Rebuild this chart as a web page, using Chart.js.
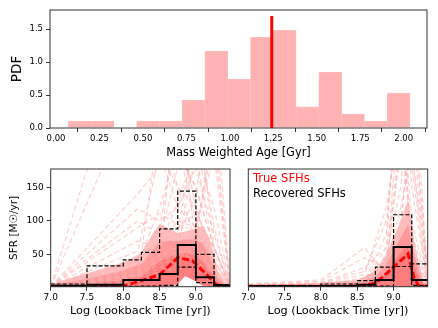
<!DOCTYPE html>
<html>
<head>
<meta charset="utf-8">
<script src="https://cdn.jsdelivr.net/npm/chart.js@4.4.1/dist/chart.umd.min.js"></script>
<style>
  html, body { margin: 0; padding: 0; background: #fff; }
  #wrap { position: relative; width: 438px; height: 328px; overflow: hidden; font-family: "DejaVu Sans", sans-serif; }
  #wrap canvas { position: absolute; left: 0; top: 0; }
  .leg { position: absolute; font-size: 11.5px; line-height: 14px; white-space: nowrap; }
</style>
</head>
<body>
<div id="wrap">
  <canvas id="topChart" width="438" height="328"></canvas>
  <canvas id="leftChart" width="438" height="328"></canvas>
  <canvas id="rightChart" width="438" height="328"></canvas>
  <div class="leg" style="left:253px; top:171px; color:#ff0000;">True SFHs</div>
  <div class="leg" style="left:253px; top:186px; color:#000;">Recovered SFHs</div>
</div>
<script>
// --- histograma de edades ---
const ageBinLeft = [0.071, 0.202, 0.333, 0.464, 0.595, 0.726, 0.857, 0.988, 1.119, 1.250, 1.381, 1.512, 1.643, 1.774, 1.905];
const ageBinWidth = 0.131;
const agePdf = [0.106, 0.106, 0, 0.106, 0.106, 0.42, 1.165, 0.74, 1.375, 1.48, 0.32, 0.85, 0.21, 0.106, 0.53];
const trueAge = 1.241;
const trueAgeTop = 1.70;
const ageTicks = [0, 0.25, 0.5, 0.75, 1.0, 1.25, 1.5, 1.75, 2.0];
const pdfTicks = [0, 0.5, 1.0, 1.5];

// --- SFHs ---
const logTicks = [7.0, 7.5, 8.0, 8.5, 9.0];
const sfrTicks = [50, 100, 150];
const recEdges = [7.0, 7.5, 8.0, 8.25, 8.5, 8.75, 9.0, 9.25, 9.47];

// panel izquierdo
const leftRecMed = [3.5, 5, 12, 12, 21, 64, 16, 4];
const leftRecUp  = [6, 33, 42, 53, 88, 144, 50, 5];
const leftRecLo  = [2.5, 2.5, 2.5, 3, 4, 31, 8, 2.5];
const leftMedX = [7.0, 7.5, 8.0, 8.25, 8.5, 8.75, 8.95, 9.15, 9.28, 9.35, 9.47];
const leftMedY = [2.5, 2.5, 3, 11, 20, 45, 41, 20, 5, 3, 3];
const leftBandX  = [7.0, 7.5, 8.0, 8.25, 8.4, 8.5, 8.6, 8.75, 8.85, 9.0, 9.1, 9.2, 9.3, 9.4, 9.47];
const leftBandUp = [6, 22, 38, 52, 80, 95, 90, 82, 84, 88, 93, 70, 25, 8, 4];
const leftBandMid = [4, 14, 26, 36, 55, 68, 70, 70, 72, 72, 65, 45, 16, 5, 3];
const leftBandIn = [2, 6, 12, 18, 30, 40, 45, 50, 52, 48, 38, 25, 9, 3, 2];
const leftBandLo = [0, 0, 0, 0, 0, 0, 2, 6, 18, 10, 3, 0, 0, 0, 0];
const leftKnots = [7.0, 8.2, 8.5, 8.75, 9.0, 9.25, 9.47];
const leftTrue = [
  [2, 300, 200, 150, 120, 40, 5],
  [2, 140, 180, 200, 150, 60, 5],
  [2, 118, 100, 120, 180, 80, 5],
  [2, 100, 80, 90, 110, 60, 4],
  [2, 90, 110, 95, 85, 40, 3],
  [2, 70, 60, 130, 200, 50, 3],
  [2, 55, 200, 120, 90, 30, 3],
  [2, 45, 90, 250, 120, 30, 2],
  [2, 40, 70, 80, 250, 90, 3],
  [2, 30, 60, 100, 90, 220, 5],
  [2, 25, 50, 60, 200, 120, 4],
  [2, 20, 45, 300, 60, 20, 2],
  [2, 15, 30, 50, 70, 250, 6],
  [2, 35, 120, 210, 100, 30, 3],
  [2, 10, 25, 45, 60, 40, 3],
  [2, 18, 35, 55, 40, 20, 2],
  [2, 12, 250, 150, 70, 20, 2],
  [2, 8, 20, 35, 90, 200, 4],
  [2, 28, 70, 180, 280, 60, 3],
  [2, 22, 40, 75, 140, 300, 8],
  [2, 420, 250, 200, 150, 60, 5]
];

// panel derecho
const rightRecMed = [2.5, 2.5, 3, 3, 5, 12, 61, 12];
const rightRecUp  = [3.5, 3.5, 6, 6, 11, 31, 109, 36];
const rightRecLo  = [2.2, 2.2, 2.2, 2.2, 2.5, 3, 32, 4];
const rightMedX = [7.0, 8.0, 8.5, 8.75, 9.0, 9.2, 9.28, 9.35, 9.47];
const rightMedY = [2.5, 2.5, 3, 7, 31, 51, 16, 2.5, 2.5];
const rightBandX  = [7.0, 7.5, 8.0, 8.5, 8.75, 8.9, 9.0, 9.1, 9.2, 9.3, 9.4, 9.47];
const rightBandUp = [5, 6, 8, 12, 25, 50, 75, 100, 132, 60, 15, 5];
const rightBandMid = [3, 4, 5, 8, 17, 35, 55, 75, 95, 42, 10, 3];
const rightBandIn = [2, 2, 3, 5, 10, 22, 38, 52, 65, 26, 6, 2];
const rightBandLo = [0, 0, 0, 0, 0, 0, 0, 0, 0, 0, 0, 0];
const rightKnots = [7.0, 8.0, 8.6, 8.9, 9.1, 9.25, 9.47];
const rightTrue = [
  [6, 12, 60, 20, 250, 60, 3],
  [5, 10, 45, 30, 300, 100, 4],
  [4, 8, 30, 60, 200, 300, 5],
  [3, 6, 20, 120, 250, 80, 3],
  [2, 4, 10, 80, 350, 200, 4],
  [2, 3, 8, 50, 150, 400, 5],
  [3, 5, 15, 40, 100, 250, 10],
  [2, 3, 6, 30, 220, 180, 3],
  [2, 2, 5, 25, 80, 300, 20],
  [4, 7, 25, 100, 300, 50, 3],
  [2, 3, 10, 60, 400, 150, 5],
  [3, 4, 12, 35, 120, 200, 30]
];

Chart.defaults.font.family = "'DejaVu Sans', sans-serif";
Chart.defaults.color = '#000';
Chart.defaults.animation = false;
Chart.defaults.plugins.legend.display = false;
Chart.defaults.plugins.tooltip.enabled = false;

// marco completo alrededor del área
const frame = {
  id: 'frame',
  afterDraw(chart) {
    const a = chart.chartArea, ctx = chart.ctx;
    ctx.save();
    ctx.strokeStyle = '#333';
    ctx.lineWidth = 1;
    ctx.strokeRect(a.left, a.top, a.right - a.left, a.bottom - a.top);
    ctx.restore();
  }
};

const pts = (xs, ys) => xs.map((x, i) => ({ x, y: ys[i] }));
const stepPts = (edges, vals) => vals.map((v, i) => ({ x: edges[i], y: v }))
  .concat([{ x: edges[edges.length - 1], y: vals[vals.length - 1] }]);

const tickGrid = { display: true, drawOnChartArea: false, drawTicks: true, tickLength: 4, color: '#333', tickColor: '#333' };

// Histograma superior
new Chart(document.getElementById('topChart'), {
  type: 'bar',
  data: {
    datasets: [
      {
        type: 'line', order: 0,
        data: [{ x: trueAge, y: 0 }, { x: trueAge, y: trueAgeTop }],
        borderColor: '#ff0000', borderWidth: 3, pointRadius: 0, clip: 0
      },
      {
        type: 'bar', order: 1,
        data: ageBinLeft.map((e, i) => ({ x: e + ageBinWidth / 2, y: agePdf[i] })),
        backgroundColor: 'rgb(255,178,178)', borderColor: 'rgb(255,190,190)', borderWidth: 0.8,
        barPercentage: 1, categoryPercentage: 1, borderSkipped: 'start'
      }
    ]
  },
  options: {
    responsive: false,
    layout: { padding: { left: 0, top: 10, right: 11, bottom: 168 } },
    scales: {
      x: {
        type: 'linear', min: -0.0345, max: 2.134, offset: false,
        grid: tickGrid, border: { display: false },
        ticks: { font: { size: 8.5 }, padding: 1.5, maxRotation: 0, autoSkip: false, callback: v => Number(v).toFixed(2) },
        afterBuildTicks: s => { s.ticks = ageTicks.map(v => ({ value: v })); },
        afterFit: s => { s.height = 32; },
        title: { display: true, text: 'Mass Weighted Age [Gyr]', font: { size: 11.4 }, padding: { top: 0, bottom: 0 } }
      },
      y: {
        type: 'linear', min: 0, max: 1.79,
        grid: tickGrid, border: { display: false },
        ticks: { font: { size: 8.5 }, padding: 3, callback: v => Number(v).toFixed(1) },
        afterBuildTicks: s => { s.ticks = pdfTicks.map(v => ({ value: v })); },
        afterFit: s => { s.width = 50; },
        title: { display: true, text: 'PDF', font: { size: 13.5 }, padding: { top: 9, bottom: 0 } }
      }
    }
  },
  plugins: [frame]
});

// Paneles de SFH
function sfhDatasets(knots, trueLines, bandX, bandLo, bandIn, bandMid, bandUp, medX, medY, recMed, recUp, recLo) {
  const ds = [];
  // negro: recuperadas
  ds.push({ data: stepPts(recEdges, recMed), borderColor: '#000', borderWidth: 2, stepped: 'before', order: 0 });
  ds.push({ data: stepPts(recEdges, recUp), borderColor: '#000', borderWidth: 1.2, borderDash: [4, 2], stepped: 'before', order: 0 });
  ds.push({ data: stepPts(recEdges, recLo), borderColor: '#000', borderWidth: 1.2, borderDash: [4, 2], stepped: 'before', order: 0 });
  // mediana verdadera
  ds.push({ data: pts(medX, medY), borderColor: '#ff0000', borderWidth: 3, borderDash: [7, 3], order: 1 });
  // SFHs verdaderas individuales
  trueLines.forEach(ys => ds.push({
    data: pts(knots, ys), borderColor: 'rgba(255,175,175,0.6)', borderWidth: 1.2, borderDash: [5, 3], order: 2
  }));
  // banda
  const loIdx = ds.length;
  ds.push({ data: pts(bandX, bandLo), borderWidth: 0, borderColor: 'rgba(0,0,0,0)', order: 6 });
  ds.push({ data: pts(bandX, bandUp), borderWidth: 0, borderColor: 'rgba(0,0,0,0)', fill: { target: loIdx }, backgroundColor: 'rgba(255,40,40,0.30)', order: 5 });
  ds.push({ data: pts(bandX, bandMid), borderWidth: 0, borderColor: 'rgba(0,0,0,0)', fill: { target: loIdx }, backgroundColor: 'rgba(255,40,40,0.25)', order: 4 });
  ds.push({ data: pts(bandX, bandIn), borderWidth: 0, borderColor: 'rgba(0,0,0,0)', fill: { target: loIdx }, backgroundColor: 'rgba(255,40,40,0.25)', order: 3 });
  ds.forEach(d => { d.pointRadius = 0; d.clip = 0; if (d.fill === undefined) d.fill = false; });
  return ds;
}

function sfhOptions(padLeft, padRight, showY) {
  return {
    responsive: false,
    layout: { padding: { left: padLeft, top: 169, right: padRight, bottom: 0 } },
    scales: {
      x: {
        type: 'linear', min: 7.0, max: 9.47,
        grid: tickGrid, border: { display: false },
        ticks: { font: { size: 9 }, padding: 2, maxRotation: 0, autoSkip: false, callback: v => Number(v).toFixed(1) },
        afterBuildTicks: s => { s.ticks = logTicks.map(v => ({ value: v })); },
        afterFit: s => { s.height = 41.3; },
        title: { display: true, text: 'Log (Lookback Time [yr])', font: { size: 11.3 }, padding: { top: 0, bottom: 10 } }
      },
      y: {
        type: 'linear', min: 2, max: 177, display: showY,
        grid: tickGrid, border: { display: false },
        ticks: { font: { size: 9 }, padding: 3, callback: v => String(v) },
        afterBuildTicks: s => { s.ticks = sfrTicks.map(v => ({ value: v })); },
        afterFit: s => { if (showY) s.width = 50.7; },
        title: { display: true, text: 'SFR [M\u2609/yr]', font: { size: 10.5 }, padding: { top: 8, bottom: 0 } }
      }
    }
  };
}

new Chart(document.getElementById('leftChart'), {
  type: 'line',
  data: { datasets: sfhDatasets(leftKnots, leftTrue, leftBandX, leftBandLo, leftBandIn, leftBandMid, leftBandUp, leftMedX, leftMedY, leftRecMed, leftRecUp, leftRecLo) },
  options: sfhOptions(0, 208, true),
  plugins: [frame]
});

new Chart(document.getElementById('rightChart'), {
  type: 'line',
  data: { datasets: sfhDatasets(rightKnots, rightTrue, rightBandX, rightBandLo, rightBandIn, rightBandMid, rightBandUp, rightMedX, rightMedY, rightRecMed, rightRecUp, rightRecLo) },
  options: sfhOptions(248.3, 10.3, false),
  plugins: [frame]
});
</script>
</body>
</html>
